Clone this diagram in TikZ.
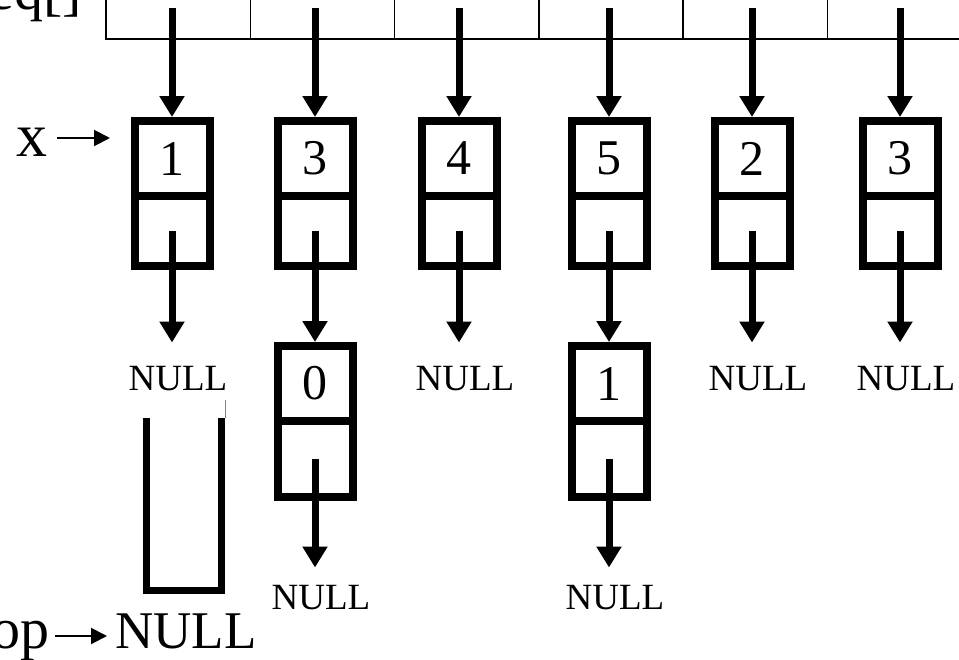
\documentclass[tikz,border=0pt]{standalone}
\usepackage{fontspec}
\setmainfont{Liberation Serif}
\usetikzlibrary{arrows.meta}
\begin{document}
\begin{tikzpicture}[x=1pt,y=-1pt,
  datacell/.style={draw,line width=8pt,minimum width=75pt,minimum height=75pt,inner sep=0pt,font=\fontsize{50}{50}\selectfont},
  ptrcell/.style={draw,line width=8pt,minimum width=75pt,inner sep=0pt,outer sep=0pt},
  arrcell/.style={draw,line width=1.5pt,minimum width=144.3pt,minimum height=62pt,inner sep=0pt,outer sep=0pt},
  link/.style={line width=7pt,-{Triangle[width=24pt,length=21pt]}},
  thinlink/.style={line width=2pt,-{Triangle[width=16pt,length=16pt]}},
  nulltext/.style={font=\fontsize{37}{37}\selectfont,inner sep=0pt},
  biglabel/.style={font=\fontsize{53}{53}\selectfont,inner sep=0pt},
  namelabel/.style={font=\fontsize{58}{58}\selectfont,inner sep=0pt},
  stackwall/.style={line width=7pt},
]
\useasboundingbox (0,0) rectangle (959,659);
\clip (0,0) rectangle (959,659);

% array seq[]
\foreach \i in {1,...,6}
  \node[arrcell] (a\i) at ({106+144.3*(\i-0.5)},8) {};
\node[namelabel,anchor=base east] (seq) at (82,9) {seq[]};

% first-level nodes
\foreach \i/\x/\v in {1/172/1,2/315/3,3/459/4,4/609/5,5/752/2,6/900/3}{
  \node[datacell] (d\i) at (\x,158.5) {\v};
  \node[ptrcell,minimum height=70pt] (p\i) at (\x,231) {};
  \draw[link] (d\i.north |- a\i.center) -- (d\i.north);
}

% NULL ends of first level
\foreach \i/\x in {1/172,3/459,5/752,6/900}{
  \node[nulltext] (u\i) at (\x+6,379) {NULL};
  \draw[link,shorten >=24pt] (p\i.center) -- (p\i.center |- u\i.north);
}

% second-level nodes
\foreach \i/\x/\v in {2/315/0,4/609/1}{
  \node[datacell] (e\i) at (\x,383.5) {\v};
  \node[ptrcell,minimum height=76pt] (q\i) at (\x,459) {};
  \draw[link] (p\i.center) -- (e\i.north);
  \node[nulltext] (w\i) at (\x+6,598) {NULL};
  \draw[link,shorten >=18pt] (q\i.center) -- (q\i.center |- w\i.north);
}

% x pointer
\node[font=\fontsize{62}{62}\selectfont,inner sep=0pt,anchor=base] (xl) at (32,156) {x};
\coordinate (xa) at (57,138);
\draw[thinlink,shorten >=20.5pt] (xa) -- (xa -| d1.west);

% stack
\draw[stackwall] (146.5,418) -- (146.5,590) -- (221.5,590) -- (221.5,418);
\draw[gray,line width=1pt] (225.5,400) -- (225.5,418);

% top -> NULL
\node[namelabel,anchor=base east] (topl) at (50,648) {top};
\node[biglabel,anchor=base west] (topnull) at (115,648) {NULL};
\coordinate (ta) at (55,636);
\draw[thinlink,shorten >=8pt] (ta) -- (ta -| topnull.west);
\end{tikzpicture}
\end{document}
